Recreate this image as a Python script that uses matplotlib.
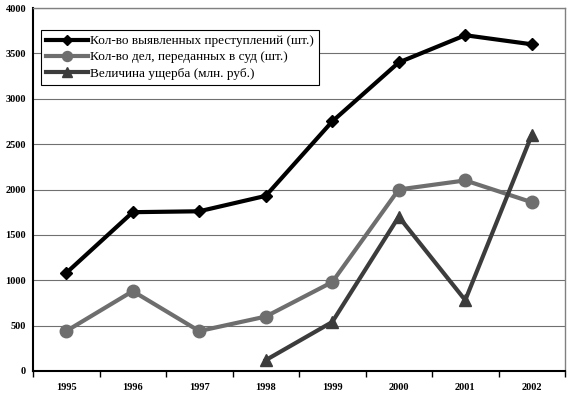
import matplotlib
matplotlib.use("Agg")
import matplotlib.pyplot as plt

years = ["1995", "1996", "1997", "1998", "1999", "2000", "2001", "2002"]
crimes = [1080, 1750, 1760, 1930, 2750, 3400, 3700, 3600]
court = [440, 880, 440, 600, 980, 2000, 2100, 1860]
damage_years = [3, 4, 5, 6, 7]
damage = [120, 540, 1700, 780, 2600]

labels = [
    "Кол-во выявленных преступлений (шт.)",
    "Кол-во дел, переданных в суд (шт.)",
    "Величина ущерба (млн. руб.)",
]

plt.rcParams["font.family"] = ["Liberation Serif", "DejaVu Serif"]

fig = plt.figure(figsize=(5.7, 3.93), dpi=100)
ax = fig.add_axes([33 / 570, 22 / 393, 532 / 570, 363 / 393])

x = list(range(len(years)))
ax.plot(x, crimes, color="black", lw=3, marker="D", markersize=6, label=labels[0])
ax.plot(x, court, color="#6e6e6e", lw=3, marker="o", markersize=9, label=labels[1])
ax.plot(damage_years, damage, color="#3c3c3c", lw=3, marker="^", markersize=9, label=labels[2])

ax.set_xlim(-0.5, 7.5)
ax.set_ylim(0, 4000)
ax.set_yticks(range(0, 4001, 500))
ax.set_xticks(x)
ax.set_xticklabels(years)
ax.set_xticks([i - 0.5 for i in range(9)], minor=True)
ax.tick_params(axis="x", which="major", length=0, pad=9)
ax.tick_params(axis="x", which="minor", length=4, width=1)
ax.tick_params(axis="y", length=0, pad=5)
for t in ax.get_xticklabels() + ax.get_yticklabels():
    t.set_fontsize(7.5)
    t.set_fontweight("bold")

ax.yaxis.grid(True, color="#707070", lw=0.8)
ax.set_axisbelow(True)
for s in ["left", "bottom"]:
    ax.spines[s].set_linewidth(1.5)
    ax.spines[s].set_color("black")
for s in ["top", "right"]:
    ax.spines[s].set_linewidth(1)
    ax.spines[s].set_color("#808080")

leg = ax.legend(loc="upper left", bbox_to_anchor=(0.015, 0.94), borderaxespad=0,
                fontsize=9.5, frameon=True, fancybox=False, edgecolor="black",
                handlelength=3.2, handletextpad=0.1, borderpad=0.4,
                labelspacing=0.3, markerscale=0.8, framealpha=1)
leg.get_frame().set_linewidth(0.8)

fig.savefig("out.png", dpi=100)
